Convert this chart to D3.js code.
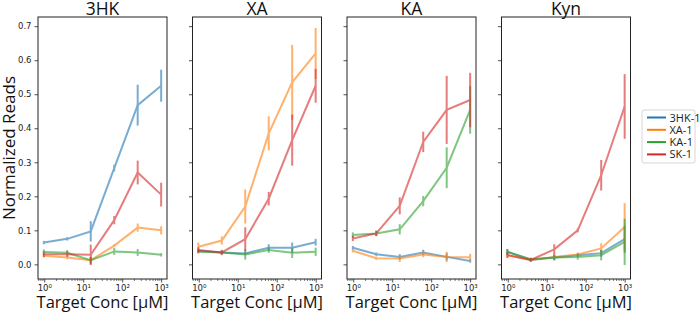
<!DOCTYPE html>
<html>
<head>
<meta charset="utf-8">
<script src="https://cdn.jsdelivr.net/npm/d3@7"></script>
<style>
  body { margin: 0; background: #fff; }
  .tick text { font-family: "DejaVu Sans", sans-serif; font-size: 8.5px; fill: #222; }
  .title, .xlabel, .ylabel { font-family: "Open Sans", sans-serif; fill: #111; }
</style>
</head>
<body>
<div id="chart"></div>
<script>
// concentrations (uM), 4-fold dilution
var conc = [0.977, 3.9, 15.6, 62.5, 250, 1000];
var panels = ["3HK", "XA", "KA", "Kyn"];
var seriesNames = ["3HK-1", "XA-1", "KA-1", "SK-1"];
var colors = ["#1f77b4", "#ff7f0e", "#2ca02c", "#d62728"];
var yTicks = [0.0, 0.1, 0.2, 0.3, 0.4, 0.5, 0.6, 0.7];

// mean values, one list per panel, each with one row per series
var mean3HK = [
  [0.064, 0.075, 0.097, 0.283, 0.468, 0.525],
  [0.025, 0.020, 0.012, 0.055, 0.108, 0.100],
  [0.036, 0.034, 0.012, 0.038, 0.035, 0.028],
  [0.030, 0.030, 0.028, 0.130, 0.270, 0.205]
];
var err3HK = [
  [0.005, 0.005, 0.030, 0.010, 0.060, 0.047],
  [0.005, 0.005, 0.010, 0.005, 0.012, 0.012],
  [0.008, 0.008, 0.010, 0.010, 0.010, 0.005],
  [0.008, 0.008, 0.030, 0.012, 0.035, 0.035]
];
var meanXA = [
  [0.040, 0.035, 0.032, 0.049, 0.049, 0.065],
  [0.052, 0.070, 0.170, 0.385, 0.535, 0.620],
  [0.037, 0.035, 0.029, 0.042, 0.034, 0.037],
  [0.042, 0.035, 0.074, 0.193, 0.365, 0.525]
];
var errXA = [
  [0.005, 0.005, 0.005, 0.010, 0.015, 0.010],
  [0.012, 0.012, 0.050, 0.050, 0.110, 0.075],
  [0.005, 0.005, 0.015, 0.008, 0.015, 0.012],
  [0.008, 0.008, 0.035, 0.020, 0.075, 0.050]
];
var meanKA = [
  [0.049, 0.030, 0.022, 0.035, 0.022, 0.010],
  [0.040, 0.018, 0.017, 0.029, 0.022, 0.021],
  [0.086, 0.091, 0.103, 0.186, 0.284, 0.454],
  [0.076, 0.091, 0.172, 0.360, 0.454, 0.483]
];
var errKA = [
  [0.005, 0.005, 0.008, 0.008, 0.010, 0.005],
  [0.005, 0.005, 0.010, 0.008, 0.015, 0.010],
  [0.008, 0.008, 0.015, 0.015, 0.060, 0.070],
  [0.008, 0.008, 0.025, 0.030, 0.100, 0.080]
];
var meanKyn = [
  [0.037, 0.013, 0.020, 0.027, 0.033, 0.074],
  [0.027, 0.013, 0.022, 0.029, 0.047, 0.110],
  [0.037, 0.015, 0.020, 0.022, 0.027, 0.066],
  [0.027, 0.013, 0.044, 0.100, 0.262, 0.464]
];
var errKyn = [
  [0.008, 0.005, 0.008, 0.006, 0.010, 0.040],
  [0.008, 0.005, 0.008, 0.006, 0.015, 0.070],
  [0.008, 0.005, 0.008, 0.008, 0.015, 0.068],
  [0.008, 0.005, 0.015, 0.006, 0.045, 0.095]
];
var means = [mean3HK, meanXA, meanKA, meanKyn];
var errs = [err3HK, errXA, errKA, errKyn];

var W = 700, H = 312;
var plotLeft = [38, 192.5, 347, 501.5], plotW = 129;
var plotTop = 17, plotBottom = 279;

var svg = d3.select("#chart").append("svg")
  .attr("width", W).attr("height", H);

var y = d3.scaleLinear().domain([-0.043, 0.727]).range([plotBottom, plotTop]);

var supers = {"0": "\u2070", "1": "\u00b9", "2": "\u00b2", "3": "\u00b3"};

panels.forEach(function(name, p) {
  var x = d3.scaleLog()
    .domain([Math.pow(10, -0.16), Math.pow(10, 3.15)])
    .range([plotLeft[p], plotLeft[p] + plotW]);

  var g = svg.append("g");

  // y axis
  var yAxis = d3.axisLeft(y).tickValues(yTicks).tickSize(3.5).tickPadding(3)
    .tickFormat(p == 0 ? d3.format(".1f") : "");
  g.append("g")
    .attr("transform", "translate(" + plotLeft[p] + ",0)")
    .call(yAxis)
    .call(function(a) { a.select(".domain").remove(); a.selectAll("line").attr("stroke", "#222").attr("stroke-width", 0.8); });

  // x axis major
  g.append("g")
    .attr("transform", "translate(0," + plotBottom + ")")
    .call(d3.axisBottom(x).tickValues([1, 10, 100, 1000]).tickSize(3.5).tickPadding(2)
      .tickFormat(function(d) { return "10" + supers[Math.round(Math.log10(d))]; }))
    .call(function(a) { a.select(".domain").remove(); a.selectAll("line").attr("stroke", "#222").attr("stroke-width", 0.8); });

  // x axis minor
  var minor = [];
  [0.1, 1, 10, 100, 1000].forEach(function(b) {
    for (var k = 2; k <= 9; k++) {
      var v = b * k;
      if (v > x.domain()[0] && v < x.domain()[1]) minor.push(v);
    }
  });
  g.append("g")
    .attr("transform", "translate(0," + plotBottom + ")")
    .call(d3.axisBottom(x).tickValues(minor).tickSize(2).tickFormat(""))
    .call(function(a) { a.select(".domain").remove(); a.selectAll("line").attr("stroke", "#222").attr("stroke-width", 0.6); });

  // data series
  means[p].forEach(function(vals, s) {
    var pts = vals.map(function(v, i) { return {c: conc[i], v: v, e: errs[p][s][i]}; });
    var sg = g.append("g").attr("opacity", 0.6);
    sg.selectAll("line.err")
      .data(pts)
      .enter()
      .append("line")
        .attr("x1", function(d) { return x(d.c); })
        .attr("x2", function(d) { return x(d.c); })
        .attr("y1", function(d) { return y(d.v - d.e); })
        .attr("y2", function(d) { return y(d.v + d.e); })
        .attr("stroke", colors[s])
        .attr("stroke-width", 2);
    sg.append("path")
      .datum(pts)
      .attr("fill", "none")
      .attr("stroke", colors[s])
      .attr("stroke-width", 2)
      .attr("d", d3.line().x(function(d) { return x(d.c); }).y(function(d) { return y(d.v); }));
  });

  // frame
  g.append("rect")
    .attr("x", plotLeft[p]).attr("y", plotTop)
    .attr("width", plotW).attr("height", plotBottom - plotTop)
    .attr("fill", "none").attr("stroke", "#222").attr("stroke-width", 1);

  g.append("text")
    .attr("class", "title")
    .attr("x", plotLeft[p] + plotW / 2).attr("y", 14.5)
    .attr("text-anchor", "middle")
    .style("font-size", "17.5px")
    .text(name);

  g.append("text")
    .attr("class", "xlabel")
    .attr("x", plotLeft[p] + plotW / 2).attr("y", 308)
    .attr("text-anchor", "middle")
    .style("font-size", "16.5px")
    .text("Target Conc [\u03bcM]");
});

svg.append("text")
  .attr("class", "ylabel")
  .attr("transform", "translate(15," + ((plotTop + plotBottom) / 2) + ")rotate(-90)")
  .attr("text-anchor", "middle")
  .style("font-size", "17px")
  .text("Normalized Reads");

// legend
var leg = svg.append("g").attr("transform", "translate(642,110)");
leg.append("rect")
  .attr("width", 53).attr("height", 53).attr("rx", 2)
  .attr("fill", "#fff").attr("stroke", "#ccc").attr("stroke-width", 0.8);
seriesNames.forEach(function(n, i) {
  var yy = 7.5 + i * 12.3;
  leg.append("line")
    .attr("x1", 5).attr("x2", 24).attr("y1", yy).attr("y2", yy)
    .attr("stroke", colors[i]).attr("stroke-width", 2);
  leg.append("text")
    .attr("x", 27.5).attr("y", yy + 4)
    .style("font-family", "Open Sans, sans-serif")
    .style("font-size", "11px")
    .attr("fill", "#222")
    .text(n);
});
</script>
</body>
</html>
